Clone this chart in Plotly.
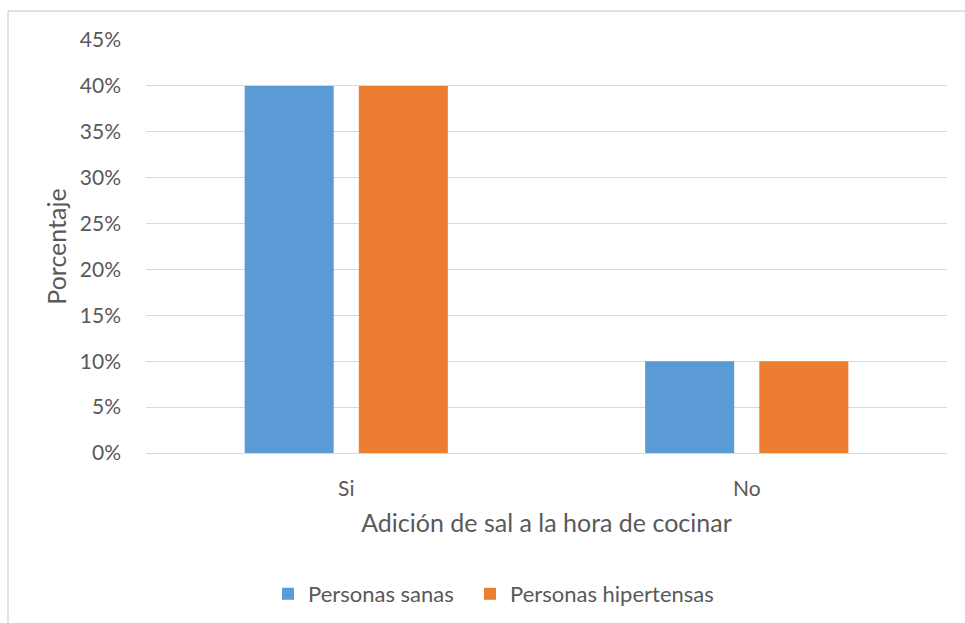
import plotly.graph_objects as go

# Salt added while cooking: share of respondents per group
categories = ["Si", "No"]
sanas = [0.40, 0.10]
hipertensas = [0.40, 0.10]
series_names = ["Personas sanas", "Personas hipertensas"]
y_ticks = [0, 0.05, 0.10, 0.15, 0.20, 0.25, 0.30, 0.35, 0.40, 0.45]

FONT = "Lato"
TEXT = "#595959"
GRID = "#d9d9d9"

W, H = 965, 623
ML, MR, MT, MB = 146, 18, 40, 170
PW, PH = W - ML - MR, H - MT - MB

fig = go.Figure()
fig.add_trace(go.Bar(x=categories, y=sanas, name=series_names[0],
                     legend="legend",
                     marker=dict(color="#5B9BD5", line=dict(width=0))))
fig.add_trace(go.Bar(x=categories, y=hipertensas, name=series_names[1],
                     legend="legend2",
                     marker=dict(color="#ED7D31", line=dict(width=0))))


def px_x(v):
    return (v - ML) / PW


def px_y(v):
    return (H - MB - v) / PH


# Chart frame: thin left and top edges
frame = dict(type="line", xref="paper", yref="paper",
             line=dict(color="#d9d9d9", width=1.5), layer="below")
fig.add_shape(**frame, x0=px_x(8), x1=px_x(8), y0=px_y(11), y1=px_y(H + 5))
fig.add_shape(**frame, x0=px_x(8), x1=px_x(W + 5), y0=px_y(11), y1=px_y(11))

legend_style = dict(orientation="h", xanchor="left", yanchor="middle",
                    y=px_y(594), itemwidth=30,
                    font=dict(family=FONT, size=22, color=TEXT),
                    bgcolor="rgba(0,0,0,0)")

fig.update_layout(
    width=W, height=H,
    margin=dict(l=ML, r=MR, t=MT, b=MB, autoexpand=False),
    paper_bgcolor="white", plot_bgcolor="white",
    barmode="group", bargap=0.43, bargroupgap=0.22,
    font=dict(family=FONT, size=21, color=TEXT),
    showlegend=True,
    legend=dict(**legend_style, x=px_x(268)),
    legend2=dict(**legend_style, x=px_x(470)),
    xaxis=dict(
        showgrid=False, showline=True, linecolor=GRID, linewidth=1,
        ticks="", ticklabelstandoff=17, automargin=False,
        tickfont=dict(family=FONT, size=21, color=TEXT),
        title=dict(text="Adición de sal a la hora de cocinar",
                   font=dict(family=FONT, size=25, color=TEXT), standoff=15),
    ),
    yaxis=dict(
        range=[0, 0.45], tickvals=y_ticks, tickformat=".0%",
        showgrid=True, gridcolor=GRID, gridwidth=1, automargin=False,
        zeroline=False, showline=False, ticks="", ticklabelstandoff=24,
        tickfont=dict(family=FONT, size=21, color=TEXT),
        title=dict(text="Porcentaje",
                   font=dict(family=FONT, size=25, color=TEXT), standoff=6),
    ),
)

fig.write_html("out.html")
